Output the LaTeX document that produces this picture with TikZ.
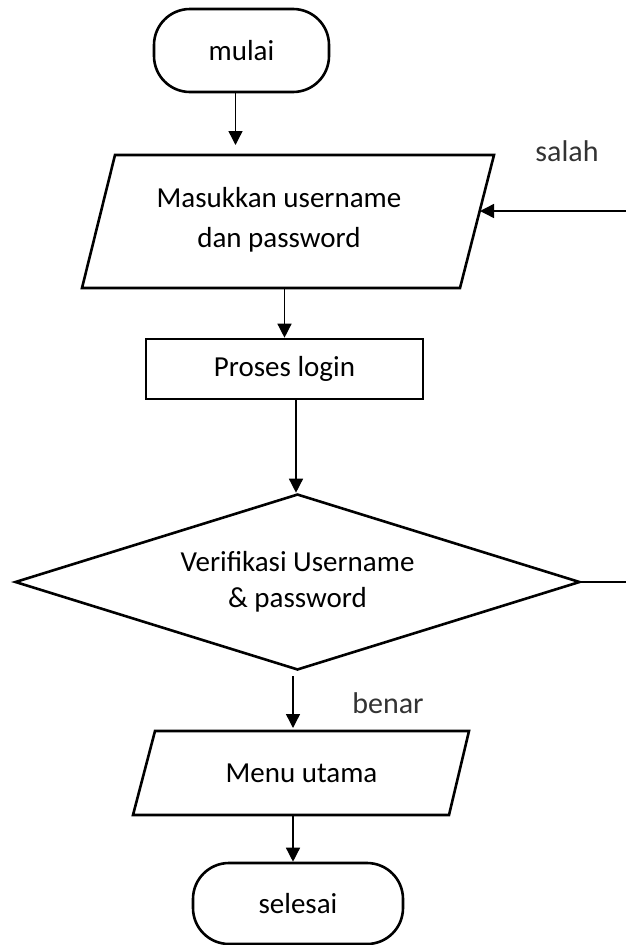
\documentclass[tikz,border=0pt]{standalone}
\usepackage{fontspec}
\setmainfont{Carlito}
\usetikzlibrary{shapes.geometric,arrows.meta}
\tikzset{
  shapeline/.style={draw=black, line width=2.6pt},
  term/.style={shapeline, rectangle, rounded corners=36pt, inner sep=0pt, font=\fontsize{29}{38}\selectfont},
  procbox/.style={shapeline, rectangle, inner sep=0pt, font=\fontsize{29}{38}\selectfont},
  iobody/.style={rectangle, inner sep=0pt, outer sep=0pt, font=\fontsize{29}{38}\selectfont},
  decbox/.style={shapeline, diamond, shape aspect=3.21, inner sep=0pt, font=\fontsize{29}{38}\selectfont, align=center},
  txt/.style={font=\fontsize{29}{40}\selectfont, align=center, inner sep=0pt},
  lbl/.style={font=\fontsize{30}{36}\selectfont, text=black!80, inner sep=0pt},
  arr/.style={line width=1.4pt, -{Triangle[length=14pt,width=14pt]}},
  ln/.style={line width=1.4pt}
}
\begin{document}
\begin{tikzpicture}[x=1pt,y=-1pt]
\useasboundingbox (0,0) rectangle (626,945);
\node[term, minimum width=175pt, minimum height=83pt] (mulai) at (241.5,50.5) {mulai};
% input parallelogram
\node[iobody, minimum width=378.5pt, minimum height=133pt] (in) at (287.75,221.5) {};
\draw[shapeline, line join=miter] ([xshift=16.5pt]in.north west) -- ([xshift=17pt]in.north east) -- ([xshift=-17pt]in.south east) -- ([xshift=-16.5pt]in.south west) -- cycle;
\node[txt] (intext) at (279,220) {Masukkan username\\dan password};
\node[procbox, minimum width=277pt, minimum height=60pt] (proc) at (284.5,369) {Proses login};
\node[decbox, minimum width=565pt, minimum height=176pt] (dec) at (297.5,582) {Verifikasi Username\\[-2pt]\& password};
% output parallelogram
\node[iobody, minimum width=315pt, minimum height=84pt] (menu) at (301.5,773) {Menu utama};
\draw[shapeline] ([xshift=11pt]menu.north west) -- ([xshift=10pt]menu.north east) -- ([xshift=-10pt]menu.south east) -- ([xshift=-11pt]menu.south west) -- cycle;
\node[term, minimum width=210pt, minimum height=81pt] (end) at (298,903.5) {selesai};
\node[lbl] (salah) at (567,151) {salah};
\node[lbl] (benar) at (388,703) {benar};
\coordinate (salahin) at (626,211);
\coordinate (decout) at (626,582);
\draw[arr] ([xshift=-6pt]mulai.south) -- ([xshift=-6pt,yshift=10pt]mulai.south |- in.north);
\draw[arr] (proc.north |- in.south) -- (proc.north);
\draw[arr] ([xshift=-1.5pt]dec.north |- proc.south) -- ([xshift=-1.5pt]dec.north);
\draw[ln] (dec.east) -- (decout);
\draw[arr] (salahin) -- ([xshift=3pt]salahin -| in.east);
\draw[arr, shorten <=5pt, shorten >=3pt] ([xshift=-4.5pt]dec.south) -- ([xshift=-4.5pt]dec.south |- menu.north);
\draw[arr] ([xshift=-5pt]end.north |- menu.south) -- ([xshift=-5pt]end.north);
\end{tikzpicture}
\end{document}
